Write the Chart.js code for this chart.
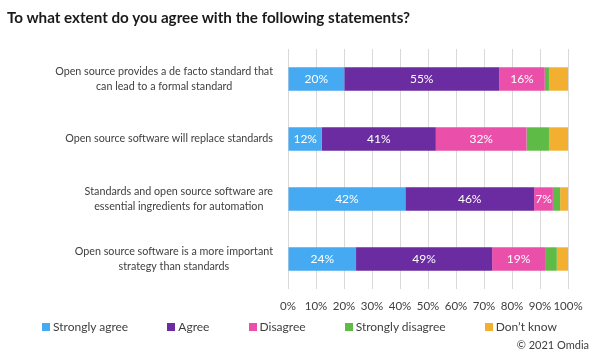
<!DOCTYPE html>
<html>
<head>
<meta charset="utf-8">
<script src="https://cdn.jsdelivr.net/npm/chart.js@4"></script>
<style>
  html, body { margin: 0; padding: 0; background: #fff; }
  #wrap { position: relative; width: 591px; height: 354px; font-family: Lato, sans-serif; }
  #chart { position: absolute; left: 0; top: 0; }
  #title { position: absolute; left: 7px; top: 8px; font-size: 15.2px; font-weight: bold; color: #1a1a1a; white-space: nowrap; }
  #legend { position: absolute; left: 42px; right: 34px; top: 319px; display: flex; justify-content: space-between;
            font-size: 12px; color: #404040; white-space: nowrap; }
  #legend span.item { display: flex; align-items: center; }
  #legend i { display: inline-block; width: 8px; height: 8px; margin-right: 3px; }
  #credit { position: absolute; right: 2px; top: 338px; font-size: 11px; color: #404040; }
</style>
</head>
<body>
<div id="wrap">
  <canvas id="chart" width="591" height="354"></canvas>
  <div id="title">To what extent do you agree with the following statements?</div>
  <div id="legend"></div>
  <div id="credit">© 2021 Omdia</div>
</div>
<script>
// Statements (y categories), one array of lines per label
const statements = [
  ['Open source provides a de facto standard that', 'can lead to a formal standard'],
  ['Open source software will replace standards'],
  ['Standards and open source software are', 'essential ingredients for automation'],
  ['Open source software is a more important', 'strategy than standards']
];

// Share of respondents (%)
const stronglyAgree    = [20.1, 12.1, 41.9, 24.3];
const agree            = [55.3, 40.7, 46.0, 48.6];
const disagree         = [16.3, 32.4, 6.7, 18.9];
const stronglyDisagree = [1.5, 8.0, 2.6, 4.2];
const dontKnow         = [6.8, 6.8, 2.8, 4.0];

const xTicks = [0, 10, 20, 30, 40, 50, 60, 70, 80, 90, 100];

const seriesNames  = ['Strongly agree', 'Agree', 'Disagree', 'Strongly disagree', 'Don\u2019t know'];
const seriesColors = ['#45AAF2', '#6B2BA1', '#EA4FAA', '#5DBB46', '#F3AF2F'];
const seriesData   = [stronglyAgree, agree, disagree, stronglyDisagree, dontKnow];
// only the first three series carry value labels in the original
const labelled = [true, true, true, false, false];

// ─── legend (html) ─────────────────────────────────────────────────────
const legendEl = document.getElementById('legend');
seriesNames.forEach((name, i) => {
  const s = document.createElement('span');
  s.className = 'item';
  s.innerHTML = `<i style="background:${seriesColors[i]}"></i>${name}`;
  legendEl.appendChild(s);
});

// ─── plugins ───────────────────────────────────────────────────────────
// Value labels centred in each segment
const segmentLabels = {
  id: 'segmentLabels',
  afterDatasetsDraw(chart) {
    const ctx = chart.ctx;
    ctx.save();
    ctx.font = '12px Lato, sans-serif';
    ctx.fillStyle = '#fff';
    ctx.textAlign = 'center';
    ctx.textBaseline = 'middle';
    chart.data.datasets.forEach((ds, di) => {
      if (!labelled[di]) return;
      chart.getDatasetMeta(di).data.forEach((bar, i) => {
        const v = ds.data[i];
        ctx.fillText(Math.round(v) + '%', (bar.x + bar.base) / 2, bar.y + 0.5);
      });
    });
    ctx.restore();
  }
};

// Category labels: block right-aligned to the axis, lines centred within it
const categoryLabels = {
  id: 'categoryLabels',
  afterDraw(chart) {
    const ctx = chart.ctx;
    const y = chart.scales.y;
    const right = chart.chartArea.left - 15;
    const lh = 15;
    ctx.save();
    ctx.font = '10.75px Lato, sans-serif';
    ctx.fillStyle = '#404040';
    ctx.textAlign = 'center';
    ctx.textBaseline = 'middle';
    statements.forEach((lines, i) => {
      const w = Math.max(...lines.map(l => ctx.measureText(l).width));
      const cx = right - w / 2;
      const py = y.getPixelForTick(i);
      lines.forEach((l, k) => {
        ctx.fillText(l, cx, py + (k - (lines.length - 1) / 2) * lh);
      });
    });
    ctx.restore();
  }
};

new Chart(document.getElementById('chart'), {
  type: 'bar',
  data: {
    labels: statements.map(s => s.join(' ')),
    datasets: seriesData.map((d, i) => ({
      label: seriesNames[i], data: d, backgroundColor: seriesColors[i],
      borderWidth: 0, barPercentage: 0.39, categoryPercentage: 1
    }))
  },
  options: {
    indexAxis: 'y',
    responsive: false, animation: false,
    layout: { padding: { top: 49, right: 23, bottom: 41, left: 0 } },
    plugins: { legend: { display: false }, tooltip: { enabled: false }, title: { display: false } },
    scales: {
      x: {
        stacked: true, min: 0, max: 100,
        afterBuildTicks: s => { s.ticks = xTicks.map(v => ({ value: v })); },
        // fixed height, and let the 100% label hang into the right margin
        afterFit: s => { s.height = 24; s.paddingLeft = 0; s.paddingRight = 0; },
        grid: { color: '#d9d9d9', drawTicks: false },
        border: { display: false },
        ticks: { padding: 10, color: '#404040', font: { family: 'Lato', size: 11.5 },
                 maxRotation: 0, minRotation: 0, autoSkip: false, callback: v => v + '%' }
      },
      y: {
        stacked: true,
        afterFit: s => { s.width = 288; },
        grid: { display: false },
        border: { display: false },
        ticks: { display: false }
      }
    }
  },
  plugins: [segmentLabels, categoryLabels]
});
</script>
</body>
</html>
